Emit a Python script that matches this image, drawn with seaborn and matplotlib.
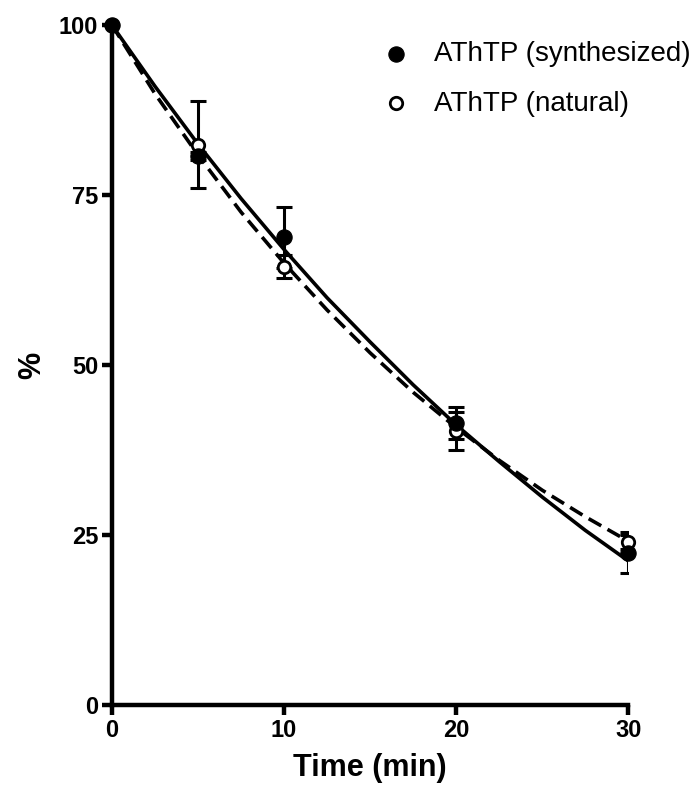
import matplotlib
matplotlib.use("Agg")
import matplotlib.pyplot as plt
import numpy as np
import pandas as pd
import seaborn as sns

# measured points (mean, error)
time_pts = [0, 5, 10, 20, 30]
synth_mean = [100, 80.8, 68.8, 41.5, 22.4]
synth_err = [0, 0.6, 4.5, 2.4, 3.0]
nat_mean = [100, 82.4, 64.5, 40.3, 24.0]
nat_err = [0, 6.4, 1.7, 2.8, 1.0]

# fitted curves
fit_time = [0, 2.5, 5, 7.5, 10, 12.5, 15, 17.5, 20, 22.5, 25, 27.5, 30]
synth_fit = [100, 91.0, 82.5, 74.5, 67.0, 59.9, 53.4, 47.1, 41.2, 35.8, 30.6, 25.7, 21.2]
nat_fit = [100, 89.9, 80.9, 72.5, 65.0, 58.1, 51.8, 46.0, 40.8, 36.0, 31.6, 27.7, 24.1]

sns.set_style("ticks")
plt.rcParams['font.family'] = ['Liberation Sans', 'DejaVu Sans']
plt.rcParams['text.color'] = 'black'
plt.rcParams['axes.labelcolor'] = 'black'
plt.rcParams['xtick.color'] = 'black'
plt.rcParams['ytick.color'] = 'black'
plt.rcParams['axes.edgecolor'] = 'black'

fig = plt.figure(figsize=(6.93, 7.86), dpi=100)
ax = fig.add_axes([0.1616, 0.103, 0.745, 0.865])

fits = pd.DataFrame({"t": fit_time + fit_time,
                     "y": synth_fit + nat_fit,
                     "s": ["synth"] * len(fit_time) + ["nat"] * len(fit_time)})
sns.lineplot(data=fits[fits.s == "synth"], x="t", y="y", color="black",
             linewidth=2.6, ax=ax, legend=False)
sns.lineplot(data=fits[fits.s == "nat"], x="t", y="y", color="black",
             linewidth=2.6, ax=ax, legend=False)
ax.lines[-1].set_dashes([4, 2])

ax.errorbar(time_pts[1:], synth_mean[1:], yerr=synth_err[1:], fmt="none",
            ecolor="black", elinewidth=2.2, capsize=6, capthick=2.2, zorder=3)
ax.errorbar(time_pts[1:], nat_mean[1:], yerr=nat_err[1:], fmt="none",
            ecolor="black", elinewidth=2.2, capsize=6, capthick=2.2, zorder=3)

sns.scatterplot(x=time_pts, y=nat_mean, marker="o", s=80, facecolor="white",
                edgecolor="black", linewidth=2.0, ax=ax, zorder=4,
                clip_on=False, label="AThTP (natural)")
sns.scatterplot(x=time_pts, y=synth_mean, marker="o", s=120, color="black",
                edgecolor="black", ax=ax, zorder=5, clip_on=False,
                label="AThTP (synthesized)")

ax.set_xlim(0, 30)
ax.set_ylim(0, 100)
ax.set_xticks([0, 10, 20, 30])
ax.set_yticks([0, 25, 50, 75, 100])
sns.despine(ax=ax)
for sp in ["left", "bottom"]:
    ax.spines[sp].set_linewidth(3.2)
ax.tick_params(width=3.2, length=7, labelsize=17, direction="out", pad=3)
for lb in ax.get_xticklabels() + ax.get_yticklabels():
    lb.set_fontweight("bold")
ax.set_xlabel("Time (min)", fontsize=22, fontweight="bold", labelpad=8)
ax.set_ylabel("%", fontsize=22, fontweight="bold", labelpad=8)

h, l = ax.get_legend_handles_labels()
ax.legend(h[::-1], l[::-1], loc="upper right", bbox_to_anchor=(1.142, 0.993),
          frameon=False, fontsize=20, handletextpad=0.35, labelspacing=0.85,
          borderaxespad=0)

fig.savefig("out.png", dpi=100)
